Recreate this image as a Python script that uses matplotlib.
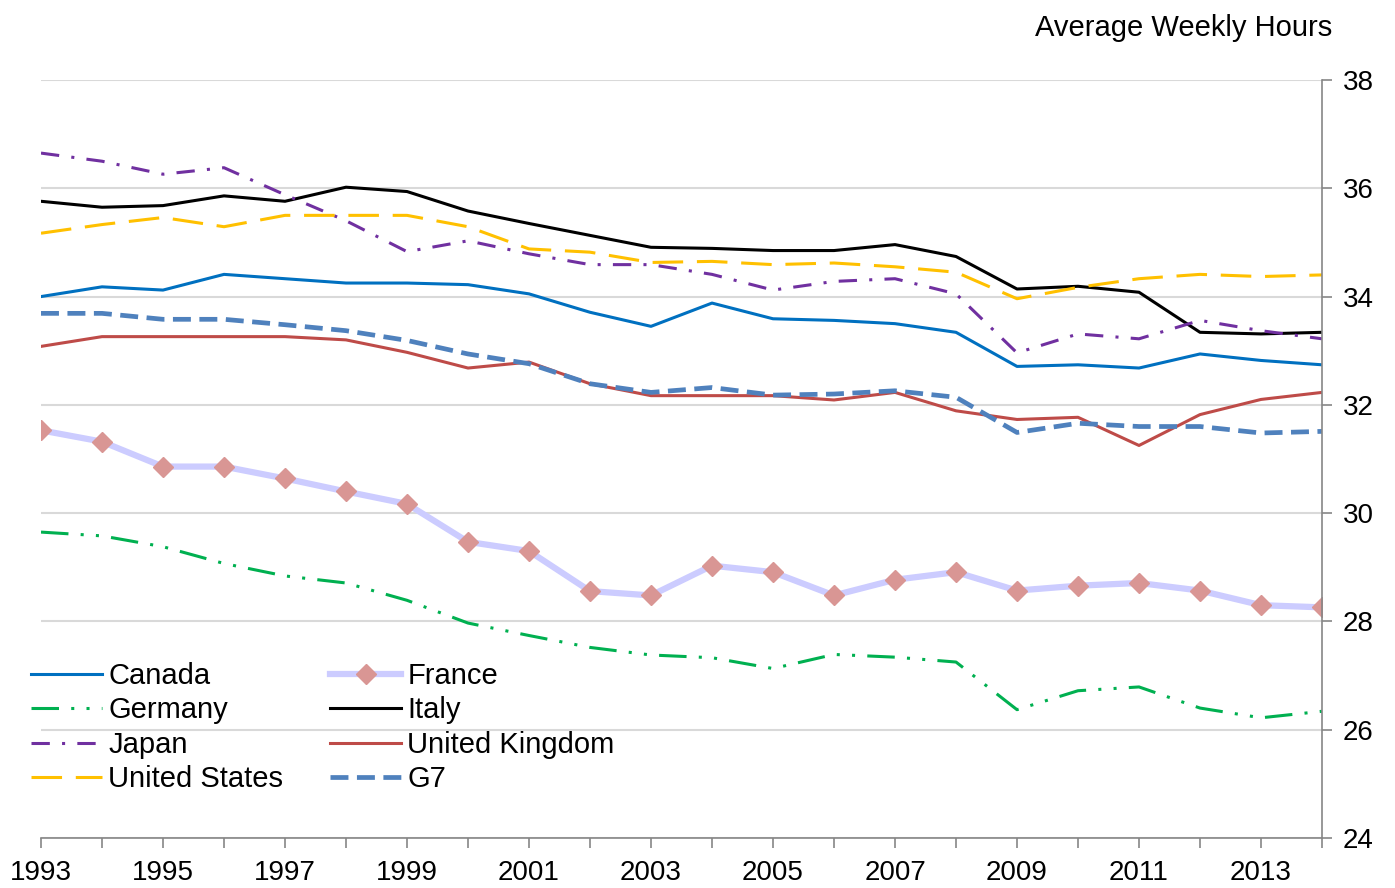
import matplotlib
matplotlib.use('Agg')
import matplotlib.pyplot as plt

plt.rcParams['font.family'] = ['Liberation Sans', 'DejaVu Sans']

# Average weekly hours, G7 countries
years = list(range(1993, 2015))
canada = [34.0, 34.18, 34.12, 34.41, 34.33, 34.25, 34.25, 34.22, 34.05, 33.71, 33.45,
          33.88, 33.59, 33.56, 33.5, 33.34, 32.71, 32.74, 32.68, 32.94, 32.82, 32.74]
france = [31.53, 31.32, 30.86, 30.86, 30.64, 30.4, 30.17, 29.47, 29.3, 28.56, 28.48,
          29.03, 28.91, 28.48, 28.77, 28.91, 28.57, 28.66, 28.71, 28.57, 28.3, 28.26]
germany = [29.65, 29.58, 29.38, 29.07, 28.84, 28.71, 28.39, 27.97, 27.74, 27.52, 27.38,
           27.33, 27.13, 27.39, 27.34, 27.25, 26.37, 26.72, 26.79, 26.4, 26.22, 26.34]
italy = [35.76, 35.65, 35.68, 35.86, 35.76, 36.02, 35.94, 35.58, 35.35, 35.13, 34.91,
         34.89, 34.85, 34.85, 34.96, 34.74, 34.14, 34.19, 34.08, 33.34, 33.31, 33.34]
japan = [36.65, 36.5, 36.26, 36.38, 35.88, 35.4, 34.83, 35.03, 34.79, 34.59, 34.59,
         34.41, 34.12, 34.28, 34.33, 34.05, 32.96, 33.31, 33.22, 33.56, 33.37, 33.22]
uk = [33.08, 33.26, 33.26, 33.26, 33.26, 33.2, 32.97, 32.68, 32.79, 32.39, 32.17,
      32.17, 32.17, 32.09, 32.23, 31.89, 31.73, 31.77, 31.25, 31.82, 32.1, 32.23]
us = [35.17, 35.33, 35.46, 35.29, 35.5, 35.5, 35.5, 35.29, 34.88, 34.82, 34.63,
      34.65, 34.59, 34.62, 34.55, 34.45, 33.96, 34.17, 34.33, 34.41, 34.37, 34.4]
g7 = [33.69, 33.69, 33.58, 33.58, 33.48, 33.37, 33.19, 32.94, 32.76, 32.39, 32.23,
      32.32, 32.18, 32.2, 32.26, 32.14, 31.49, 31.66, 31.6, 31.6, 31.48, 31.51]

y_ticks = [24, 26, 28, 30, 32, 34, 36, 38]
x_labels = [str(y) if (y - 1993) % 2 == 0 else '' for y in years]

fig = plt.figure(figsize=(13.95, 8.88), dpi=100)
ax = fig.add_axes([41 / 1395, 1 - 838 / 888, (1322 - 41) / 1395, (838 - 80) / 888])

l_can, = ax.plot(years, canada, color='#0070C0', lw=2.2, label='Canada')
l_fra, = ax.plot(years, france, color='#CCCCFF', lw=4.5, marker='D', markersize=10.5,
                 markerfacecolor='#D99694', markeredgecolor='#D99694', label='France')
l_ger, = ax.plot(years, germany, color='#00B050', lw=2.2,
                 linestyle=(0, (9, 4, 1, 4, 1, 4)), label='Germany')
l_ita, = ax.plot(years, italy, color='black', lw=2.2, label='Italy')
l_jap, = ax.plot(years, japan, color='#7030A0', lw=2.2,
                 linestyle=(0, (6, 4, 1, 4)), label='Japan')
l_uk, = ax.plot(years, uk, color='#BE4B48', lw=2.2, label='United Kingdom')
l_us, = ax.plot(years, us, color='#FFC000', lw=2.2,
                linestyle=(0, (10, 4.5)), label='United States')
l_g7, = ax.plot(years, g7, color='#4F81BD', lw=3.4,
                linestyle=(0, (3.8, 1.8)), label='G7')

ax.set_xlim(1993, 2014)
ax.set_ylim(24, 38)
ax.set_xticks(years)
ax.set_xticklabels(x_labels)
ax.set_yticks(y_ticks)
ax.yaxis.tick_right()
ax.grid(axis='y', color='#D9D9D9', lw=1.5)
ax.set_axisbelow(True)

for s in ['left', 'top']:
    ax.spines[s].set_visible(False)
for s in ['right', 'bottom']:
    ax.spines[s].set_color('#868686')
    ax.spines[s].set_linewidth(1.2)
ax.tick_params(axis='x', direction='out', length=7, width=1.2, color='#868686',
               labelsize=20, pad=9)
ax.tick_params(axis='y', direction='out', length=7, width=1.2, color='#868686',
               labelsize=20, pad=8, right=True, left=False)

fig.text(1332 / 1395, 1 - 28 / 888, 'Average Weekly Hours', ha='right', va='center',
         fontsize=21)

handles = [l_can, l_ger, l_jap, l_us, l_fra, l_ita, l_uk, l_g7]
ax.legend(handles=handles, labels=[h.get_label() for h in handles], ncol=2,
          loc='upper left', bbox_to_anchor=(31 / 1395, 1 - 662 / 888),
          bbox_transform=fig.transFigure, frameon=False, fontsize=21,
          handlelength=2.45, handletextpad=0.2, columnspacing=1.6,
          labelspacing=0.22, borderpad=0, borderaxespad=0)

fig.savefig('out.png', dpi=100)
